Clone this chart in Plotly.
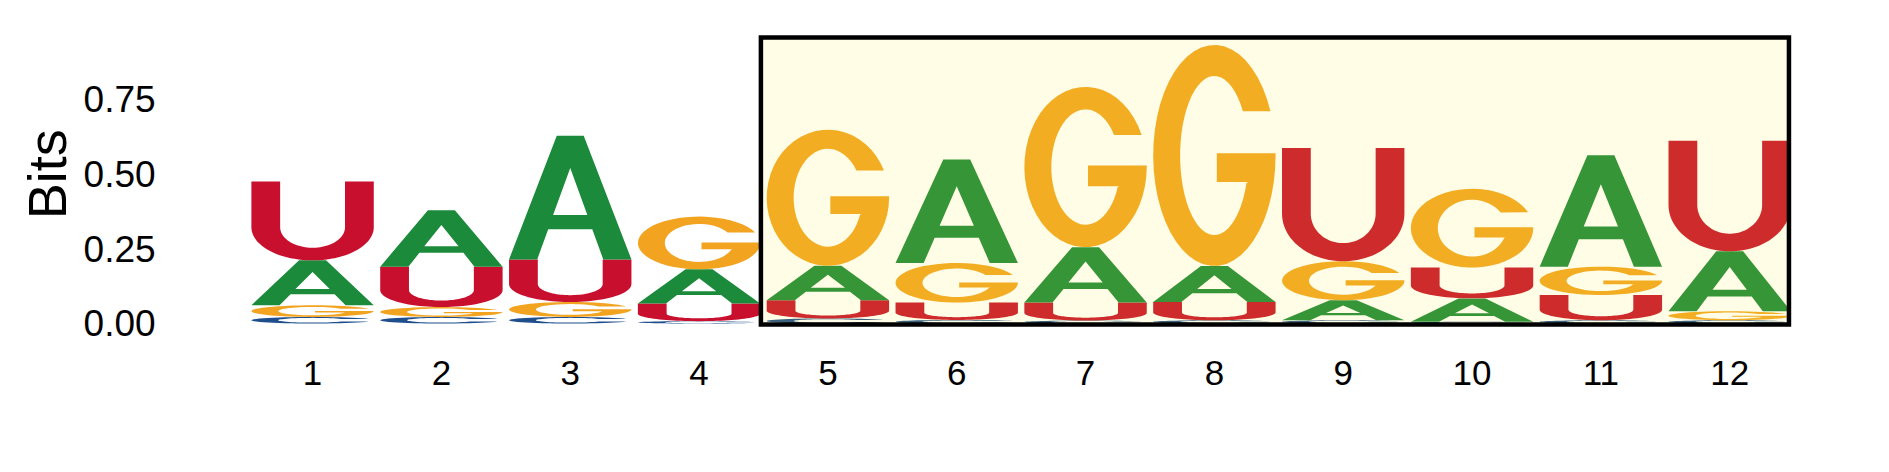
import numpy as np
import plotly.graph_objects as go

# Sequence logo data: information (bits) per nucleotide at each position
positions = list(range(1, 13))
bits_A = [0.150, 0.188, 0.413, 0.114, 0.115, 0.346, 0.185, 0.120, 0.067, 0.078, 0.372, 0.200]
bits_C = [0.022, 0.022, 0.022, 0.008, 0.017, 0.012, 0.010, 0.011, 0.011, 0.006, 0.011, 0.011]
bits_G = [0.039, 0.033, 0.050, 0.176, 0.454, 0.132, 0.535, 0.738, 0.130, 0.263, 0.095, 0.030]
bits_U = [0.263, 0.135, 0.142, 0.059, 0.061, 0.058, 0.060, 0.061, 0.378, 0.103, 0.084, 0.369]

ytick_vals = [0, 0.25, 0.5, 0.75]
ytick_text = ["0.00", "0.25", "0.50", "0.75"]
box_positions = [5, 12]  # highlighted region

colors = {"A": "#1B8A3A", "C": "#1F4E8C", "G": "#F2A421", "U": "#C8102E"}
letter_width = 0.95


# Glyph outlines in a unit box (0..1 x 0..1)
def arc(cx, cy, rx, ry, a0, a1, n=48):
    t = np.radians(np.linspace(a0, a1, n))
    return list(zip(cx + rx * np.cos(t), cy + ry * np.sin(t)))


def glyph(letter):
    if letter == "A":
        outer = [(0, 0), (0.39, 1), (0.61, 1), (1, 0), (0.77, 0), (0.68, 0.245),
                 (0.32, 0.245), (0.23, 0)]
        hole = [(0.36, 0.36), (0.64, 0.36), (0.5, 0.74)]
        return [outer, hole]
    if letter == "U":
        outer = [(0, 1)] + arc(0.5, 0.42, 0.5, 0.42, 180, 360) + [(1, 1), (0.765, 1)]
        inner = arc(0.5, 0.42, 0.265, 0.26, 360, 180) + [(0.235, 1)]
        return [outer + inner]
    if letter == "C":
        outer = arc(0.5, 0.5, 0.5, 0.5, 23.6, 336.4)
        inner = arc(0.5, 0.5, 0.28, 0.36, 326.3, 33.7)
        return [outer + inner]
    # G
    outer = arc(0.5, 0.5, 0.5, 0.5, 23.6, 360)
    bar = [(1, 0.51), (0.52, 0.51), (0.52, 0.38), (0.78, 0.38)]
    inner = arc(0.5, 0.5, 0.28, 0.36, -20, -326.3)
    return [outer + bar + inner]


def glyph_path(letter, x_center, y_base, height):
    parts = []
    for contour in glyph(letter):
        pts = [(x_center - letter_width / 2 + ux * letter_width, y_base + uy * height)
               for ux, uy in contour]
        parts.append("M " + " L ".join(f"{px:.5f},{py:.6f}" for px, py in pts) + " Z")
    return " ".join(parts)


fig = go.Figure()
fig.add_trace(go.Scatter(x=positions, y=[0] * len(positions), mode="markers",
                         marker=dict(opacity=0), hoverinfo="skip", showlegend=False))

# Stack letters, smallest at the bottom
for i, pos in enumerate(positions):
    heights = {"A": bits_A[i], "C": bits_C[i], "G": bits_G[i], "U": bits_U[i]}
    base = 0.0
    for letter, h in sorted(heights.items(), key=lambda kv: kv[1]):
        fig.add_shape(type="path", path=glyph_path(letter, pos, base, h),
                      xref="x", yref="y", fillcolor=colors[letter], fillrule="evenodd",
                      line=dict(width=0), layer="below")
        base += h

# Highlight box over positions 5-12
fig.add_shape(type="rect", xref="x", yref="y",
              x0=box_positions[0] - 0.52, x1=box_positions[1] + 0.46, y0=-0.003, y1=0.955,
              fillcolor="rgba(255,241,38,0.12)", line=dict(color="black", width=4.5),
              layer="above")

fig.add_annotation(text="Bits", xref="paper", yref="y", x=-0.093, y=0.5,
                   textangle=-90, showarrow=False,
                   font=dict(size=54, color="black", family="Liberation Sans, Arial"))

fig.update_layout(
    width=1889, height=472,
    margin=dict(l=159, r=90, t=16, b=131),
    paper_bgcolor="white", plot_bgcolor="white",
    font=dict(family="Liberation Sans, Arial", color="black"),
    xaxis=dict(range=[-0.13, 12.6], tickvals=positions, ticktext=[str(p) for p in positions],
               showgrid=False, zeroline=False, showline=False, tickfont=dict(size=35)),
    yaxis=dict(range=[-0.085, 1.0], tickvals=ytick_vals, ticktext=ytick_text,
               ticks="outside", ticklen=3, tickcolor="rgba(0,0,0,0)",
               showgrid=False, zeroline=False, showline=False, tickfont=dict(size=37)),
    showlegend=False,
)

fig.write_html("out.html")
